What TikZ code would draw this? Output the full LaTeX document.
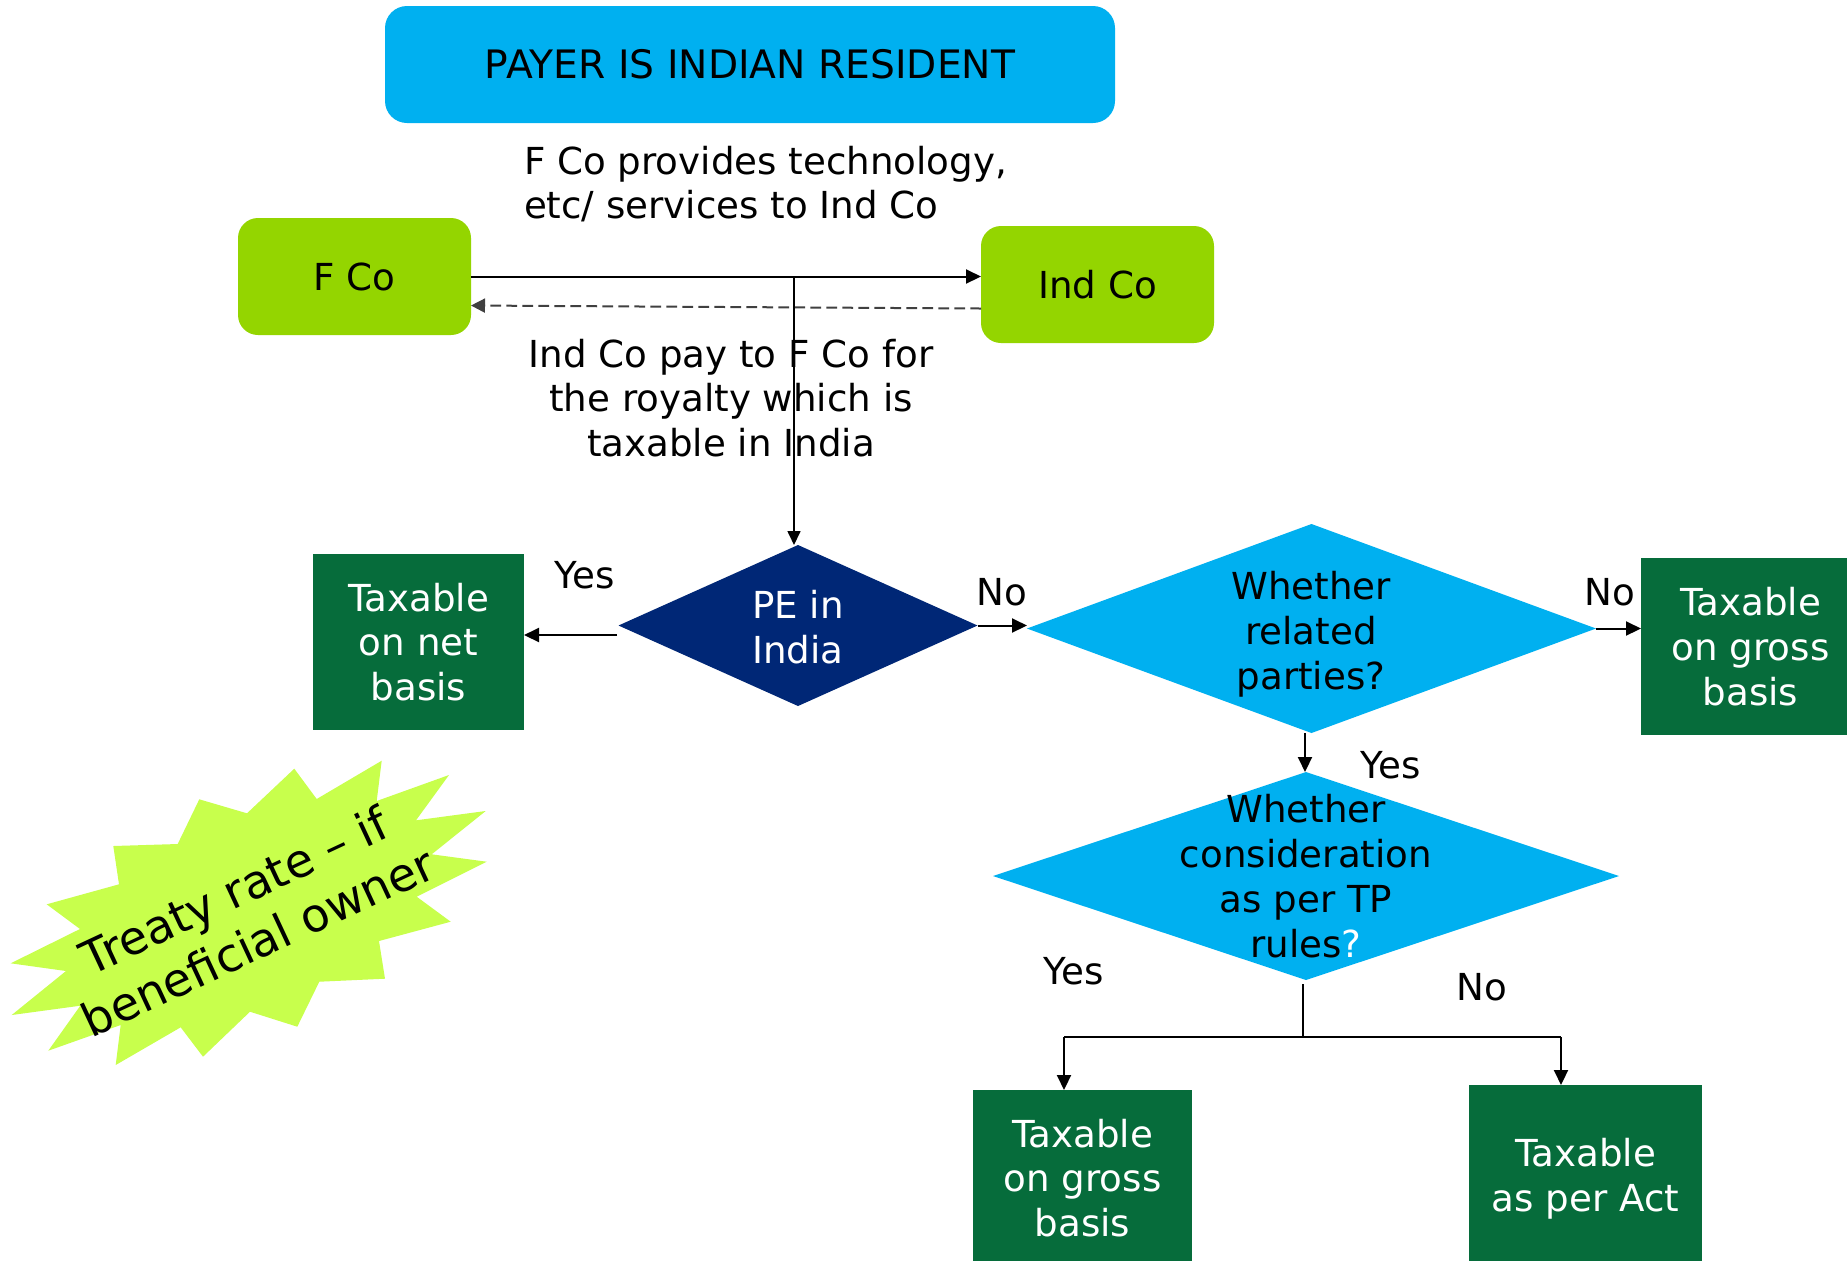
\documentclass[tikz,border=0pt]{standalone}
\usepackage{fontspec}
\setmainfont{DejaVu Sans}
\usetikzlibrary{arrows.meta,shapes.geometric,calc}

\definecolor{skyblue}{RGB}{0,176,240}
\definecolor{limegreen}{RGB}{148,213,0}
\definecolor{taxgreen}{RGB}{6,108,59}
\definecolor{navyblue}{RGB}{0,39,118}
\definecolor{burstgreen}{RGB}{200,255,76}
\definecolor{dashgrey}{RGB}{64,64,64}

\tikzset{
  txt/.style={font=\fontsize{18.6}{22.4}\selectfont, inner sep=0pt, outer sep=0pt},
  banner/.style={txt, font=\fontsize{19.6}{23}\selectfont, fill=skyblue, rounded corners=11pt, minimum width=365pt, minimum height=58.5pt},
  company/.style={txt, fill=limegreen, rounded corners=10pt, minimum width=116.5pt, minimum height=58.5pt},
  outcome/.style={txt, fill=taxgreen, text=white, align=center},
  decision/.style={diamond, inner sep=0pt, outer sep=0pt, aspect=2},
  arr/.style={line width=1pt, -{Triangle[length=7.5pt,width=7pt]}},
  plain/.style={line width=1pt},
}

\begin{document}
\begin{tikzpicture}[x=0.5pt,y=-0.5pt]
\clip (0,0) rectangle (1847,1260);
\fill[white] (0,0) rectangle (1847,1260);

% header and the two companies
\node[banner] (payer) at (750,64.5) {PAYER IS INDIAN RESIDENT};
\node[company] (fco) at (354.5,276.5) {F Co};
\node[company] (indco) at (1097.5,284.5) {Ind Co};

\node[txt, anchor=west, align=left] (provides) at (524,184)
  {F Co provides technology,\\etc/ services to Ind Co};
\node[txt, align=center] (pays) at (731,398)
  {Ind Co pay to F Co for\\the royalty which is\\taxable in India};

% decisions
\node[decision, fill=navyblue, minimum width=179.5pt, minimum height=80.5pt] (pe) at (798,625.5) {};
\node[txt, text=white, align=center] (peText) at (798,627) {PE in\\India};

\node[decision, fill=skyblue, minimum width=284.5pt, minimum height=104.5pt] (rel) at (1311.5,628.5) {};
\node[txt, align=center] (relText) at (1311,634) {Whether\\related\\parties?};

\node[decision, fill=skyblue, minimum width=313pt, minimum height=104pt] (tp) at (1306,876) {};
\node[txt, align=center] (tpText) at (1306,876) {Whether\\consideration\\as per TP\\rules\textcolor{white}{?}};

% outcomes
\node[outcome, minimum width=105.5pt, minimum height=88pt] (net) at (418.5,642) {Taxable\\on net\\basis};
\node[outcome, minimum width=109.5pt, minimum height=88.5pt] (grossR) at (1750.5,646.5) {Taxable\\on gross\\basis};
\node[outcome, minimum width=109.5pt, minimum height=88pt] (grossB) at (1082.5,1178) {Taxable\\on gross\\basis};
\node[outcome, minimum width=116.5pt, minimum height=94pt] (act) at (1585.5,1179) {Taxable\\as per Act};

% branch labels
\node[txt] (yesNet) at (585,575) {Yes};
\node[txt] (noPe) at (1002,592) {No};
\node[txt] (noRel) at (1610,592) {No};
\node[txt] (yesRel) at (1391,765) {Yes};
\node[txt] (yesTp) at (1074,971) {Yes};
\node[txt] (noTp) at (1482,987) {No};

% flows between the companies
\draw[arr] (fco.east) -- (fco.east -| indco.west);
\coordinate (payStart) at ($(indco.west)+(0,24)$);
\coordinate (payEnd) at ($(fco.east)+(0,29)$);
\draw[line width=1pt, dashgrey, dash pattern=on 5.3pt off 2.7pt, -{Triangle[length=7pt,width=7pt]}]
  (payStart) -- (payEnd);
\coordinate (tap) at (794,276.5);
\draw[line width=0.8pt, -{Triangle[length=7pt,width=6.5pt]}] (tap) -- (tap |- pe.north);

% decision connectors
\coordinate (peOut) at (617,635);
\draw[arr] (peOut) -- (peOut -| net.east);
\draw[arr] (pe.east) -- (pe.east -| rel.west);
\draw[arr] (rel.east) -- (rel.east -| grossR.west);
\coordinate (relOut) at (1305,733);
\draw[arr] (relOut) -- (relOut |- tp.north);

\coordinate (forkTop) at ($(tp.south)+(-3,4)$);
\coordinate (fork) at (1303,1037);
\coordinate (forkL) at (1064,1037);
\coordinate (forkR) at (1561,1037);
\draw[plain] (forkTop) -- (fork);
\draw[plain] (forkL) -- (forkR);
\draw[arr] (forkL) -- (forkL |- grossB.north);
\draw[arr] (forkR) -- (forkR |- act.north);

% starburst note
\fill[burstgreen] (113.3,846) -- (177.7,844) -- (199.3,799.3) -- (247,813.3) -- (294.3,768.7)
  -- (316.7,799) -- (381.7,760.7) -- (376.7,801) -- (449,775) -- (416,820.3) -- (485.7,811)
  -- (431.7,854.3) -- (486.7,861.7) -- (416.7,896.7) -- (450.7,921.7) -- (379,941)
  -- (385,978.7) -- (319.3,981.7) -- (297.3,1026.7) -- (250,1011.7) -- (203,1056.7)
  -- (180.7,1027.3) -- (115.7,1065) -- (120.7,1025) -- (48.3,1050.7) -- (80.3,1005.7)
  -- (11.7,1015) -- (66,971) -- (10.7,963.3) -- (80,929) -- (46.7,904.3) -- (119,884.3) -- cycle;
\node[inner sep=0pt, font=\fontsize{23.2}{28}\selectfont, align=center, rotate=25] (treaty) at (246,916)
  {Treaty rate -- if\\beneficial owner};
\end{tikzpicture}
\end{document}
